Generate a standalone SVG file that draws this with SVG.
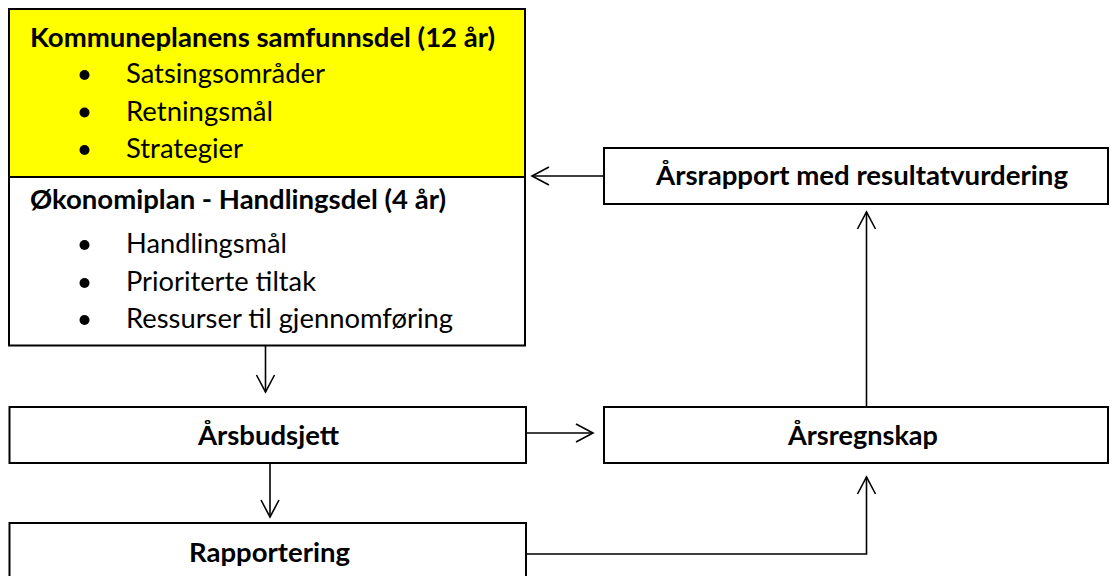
<svg xmlns="http://www.w3.org/2000/svg" width="1111" height="576" viewBox="0 0 1111 576">
  <style>
    .box { fill: #ffffff; stroke: #000000; stroke-width: 2; }
    .yellow { fill: #ffff00; }
    .t { font-family: Lato, "Open Sans", "Liberation Sans", sans-serif; font-size: 27px; fill: #000000; }
    .b { font-weight: 700; }
    .c { fill: none; stroke: #000000; stroke-width: 1.6; }
    .dot { fill: #000000; }
  </style>
  <defs>
    <marker id="arr" markerUnits="userSpaceOnUse" viewBox="-19 -11 21 22" refX="0" refY="0" markerWidth="21" markerHeight="22" orient="auto" overflow="visible">
      <path d="M -17 -9 L 0 0 L -17 9" fill="none" stroke="#000000" stroke-width="1.6"/>
    </marker>
  </defs>

  <g id="kommuneplan">
    <rect class="box yellow" x="9" y="9" width="516" height="168"/>
    <text class="t b" x="30" y="47" textLength="465" lengthAdjust="spacingAndGlyphs">Kommuneplanens samfunnsdel (12 år)</text>
    <circle class="dot" cx="84.5" cy="75" r="5"/>
    <text class="t" x="126" y="83" textLength="199" lengthAdjust="spacingAndGlyphs">Satsingsområder</text>
    <circle class="dot" cx="84.5" cy="112.5" r="5"/>
    <text class="t" x="126" y="121" textLength="147" lengthAdjust="spacingAndGlyphs">Retningsmål</text>
    <circle class="dot" cx="84.5" cy="150" r="5"/>
    <text class="t" x="126" y="158" textLength="117" lengthAdjust="spacingAndGlyphs">Strategier</text>
  </g>

  <g id="okonomiplan">
    <rect class="box" x="9" y="177" width="516" height="168.5"/>
    <text class="t b" x="30" y="209" textLength="416" lengthAdjust="spacingAndGlyphs">Økonomiplan - Handlingsdel (4 år)</text>
    <circle class="dot" cx="84.5" cy="245" r="5"/>
    <text class="t" x="126" y="253" textLength="161" lengthAdjust="spacingAndGlyphs">Handlingsmål</text>
    <circle class="dot" cx="84.5" cy="283" r="5"/>
    <text class="t" x="126" y="291" textLength="190" lengthAdjust="spacingAndGlyphs">Prioriterte tiltak</text>
    <circle class="dot" cx="84.5" cy="320" r="5"/>
    <text class="t" x="126" y="328" textLength="327" lengthAdjust="spacingAndGlyphs">Ressurser til gjennomføring</text>
  </g>

  <g id="arsbudsjett">
    <rect class="box" x="9.5" y="407" width="516.5" height="56"/>
    <text class="t b" x="198" y="445" textLength="141" lengthAdjust="spacingAndGlyphs">Årsbudsjett</text>
  </g>

  <g id="rapportering">
    <rect class="box" x="9.5" y="523" width="516.5" height="62"/>
    <text class="t b" x="189" y="562" textLength="161" lengthAdjust="spacingAndGlyphs">Rapportering</text>
  </g>

  <g id="arsrapport">
    <rect class="box" x="604" y="148" width="504" height="56"/>
    <text class="t b" x="656" y="185" textLength="412" lengthAdjust="spacingAndGlyphs">Årsrapport med resultatvurdering</text>
  </g>

  <g id="arsregnskap">
    <rect class="box" x="604" y="407" width="504" height="56"/>
    <text class="t b" x="788" y="445" textLength="150" lengthAdjust="spacingAndGlyphs">Årsregnskap</text>
  </g>

  <g id="connectors">
    <line class="c" x1="604" y1="176" x2="532" y2="176" marker-end="url(#arr)"/>
    <line class="c" x1="265.5" y1="346" x2="265.5" y2="392" marker-end="url(#arr)"/>
    <line class="c" x1="270" y1="463" x2="270" y2="517" marker-end="url(#arr)"/>
    <line class="c" x1="526" y1="433" x2="593" y2="433" marker-end="url(#arr)"/>
    <path class="c" d="M 526 554 H 866.5 V 477" marker-end="url(#arr)"/>
    <line class="c" x1="866.5" y1="407" x2="866.5" y2="212" marker-end="url(#arr)"/>
  </g>
</svg>
